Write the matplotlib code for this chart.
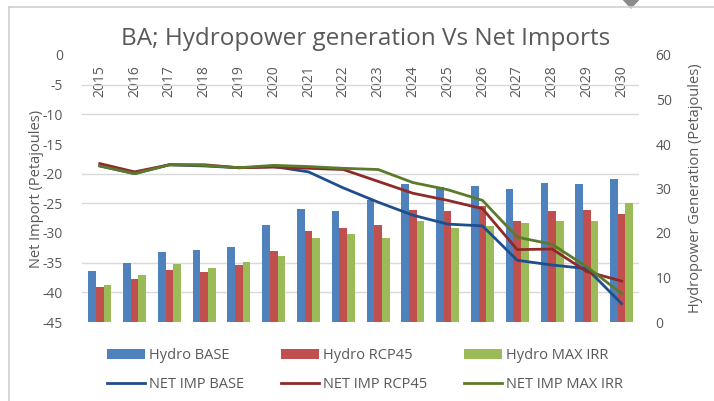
import matplotlib
matplotlib.use("Agg")
import matplotlib.pyplot as plt
import numpy as np

plt.rcParams["font.family"] = ["Open Sans", "DejaVu Sans"]
plt.rcParams["axes.unicode_minus"] = False

# ── data ──────────────────────────────────────────────────
years = [str(y) for y in range(2015, 2031)]

hydro_base  = [11.5, 13.2, 15.7, 16.2, 16.8, 21.8, 25.4, 24.9, 27.4, 30.9, 30.4, 30.6, 30.0, 31.2, 30.9, 32.1]
hydro_rcp45 = [7.8, 9.7, 11.7, 11.2, 12.7, 16.0, 20.4, 21.2, 21.8, 25.1, 24.9, 26.1, 22.8, 24.9, 25.1, 24.2]
hydro_maxirr = [8.3, 10.5, 13.0, 12.2, 13.5, 14.8, 18.9, 19.8, 18.9, 22.7, 21.2, 21.6, 22.2, 22.7, 22.7, 26.7]

net_base  = [-18.7, -20.0, -18.5, -18.7, -19.0, -18.8, -19.7, -22.4, -24.8, -27.0, -28.5, -28.8, -34.6, -35.4, -36.0, -41.9]
net_rcp45 = [-18.3, -19.7, -18.5, -18.5, -19.0, -18.9, -19.1, -19.3, -21.3, -23.3, -24.5, -25.9, -32.8, -32.7, -36.5, -38.1]
net_maxirr = [-18.7, -20.0, -18.5, -18.6, -19.0, -18.6, -18.8, -19.1, -19.3, -21.5, -22.7, -24.5, -30.7, -31.9, -35.7, -40.2]

# ── colours ───────────────────────────────────────────────
bar_cols  = ["#4F81BD", "#C0504D", "#9BBB59"]
line_cols = ["#1F4E8C", "#8E2A28", "#5B7A2B"]
txt_col = "#595959"
grid_col = "#D9D9D9"

fig = plt.figure(figsize=(7.14, 4.01), dpi=100)
fig.patch.set_facecolor("white")

# chart frame + selection handle (screenshot artefacts)
fig.add_artist(plt.Line2D([9/714, 9/714], [0, 1 - 7/401], transform=fig.transFigure,
                          color="#D0D0D0", lw=1.2))
fig.add_artist(plt.Line2D([9/714, 1], [1 - 7/401, 1 - 7/401], transform=fig.transFigure,
                          color="#D0D0D0", lw=1.2))
fig.add_artist(plt.Polygon([[620/714, 1 + 4/401], [631/714, 1 - 8/401], [642/714, 1 + 4/401]],
                           closed=True, transform=fig.transFigure, color="#8C8C8C"))

ax_h = fig.add_axes([82.4/714, 1 - 322/401, 556.6/714, 267/401])
ax_n = ax_h.twinx()

x = np.arange(len(years))
w = 0.22

# ── bars (hydro, right axis) ──────────────────────────────
b1 = ax_h.bar(x - w, hydro_base, w, color=bar_cols[0], label="Hydro BASE", zorder=2)
b2 = ax_h.bar(x, hydro_rcp45, w, color=bar_cols[1], label="Hydro RCP45", zorder=2)
b3 = ax_h.bar(x + w, hydro_maxirr, w, color=bar_cols[2], label="Hydro MAX IRR", zorder=2)
ax_h.set_ylim(0, 60)
ax_h.set_xlim(-0.5, len(years) - 0.5)
ax_h.set_yticks(np.arange(0, 61, 10))
ax_h.set_yticks(np.linspace(0, 60, 10), minor=True)
ax_h.grid(which="minor", axis="y", color=grid_col, lw=1, zorder=0)
ax_h.tick_params(axis="y", which="minor", length=0)
ax_h.yaxis.tick_right()
ax_h.yaxis.set_label_position("right")
ax_h.tick_params(axis="y", which="major", length=0, pad=12, labelsize=10, colors=txt_col)
ax_h.set_ylabel("Hydropower Generation (Petajoules)", fontsize=10.5, color=txt_col, labelpad=12)

# years along the top (axis sits at 0 on the left scale)
ax_h.set_xticks(x)
ax_h.set_xticklabels(years, rotation=90)
ax_h.xaxis.tick_top()
ax_h.tick_params(axis="x", length=0, pad=-30, labelsize=10, colors=txt_col)

# ── lines (net imports, left axis) ────────────────────────
l1, = ax_n.plot(x, net_base, color=line_cols[0], lw=2, label="NET IMP BASE")
l2, = ax_n.plot(x, net_rcp45, color=line_cols[1], lw=2, label="NET IMP RCP45")
l3, = ax_n.plot(x, net_maxirr, color=line_cols[2], lw=2, label="NET IMP MAX IRR")
ax_n.set_ylim(-45, 0)
ax_n.set_yticks(np.arange(-45, 1, 5))
ax_n.yaxis.tick_left()
ax_n.yaxis.set_label_position("left")
ax_n.tick_params(axis="y", length=0, pad=14, labelsize=10, colors=txt_col)
ax_n.set_ylabel("Net Import (Petajoules)", fontsize=10.5, color=txt_col, labelpad=-1)

for a in (ax_h, ax_n):
    for s in a.spines.values():
        s.set_visible(False)

fig.suptitle("BA; Hydropower generation Vs Net Imports", x=366/714, y=1 - 27/401,
             fontsize=17.5, color=txt_col)

fig.legend([b1, l1, b2, l2, b3, l3],
           ["Hydro BASE", "NET IMP BASE", "Hydro RCP45", "NET IMP RCP45",
            "Hydro MAX IRR", "NET IMP MAX IRR"],
           ncol=3, loc="upper left", bbox_to_anchor=(94/714, 1 - 335/401),
           frameon=False, fontsize=10.5, labelcolor=txt_col,
           handlelength=2.6, handleheight=0.65, handletextpad=0.3,
           columnspacing=2.5, labelspacing=0.95)

plt.savefig("out.png", dpi=100, facecolor="white")
